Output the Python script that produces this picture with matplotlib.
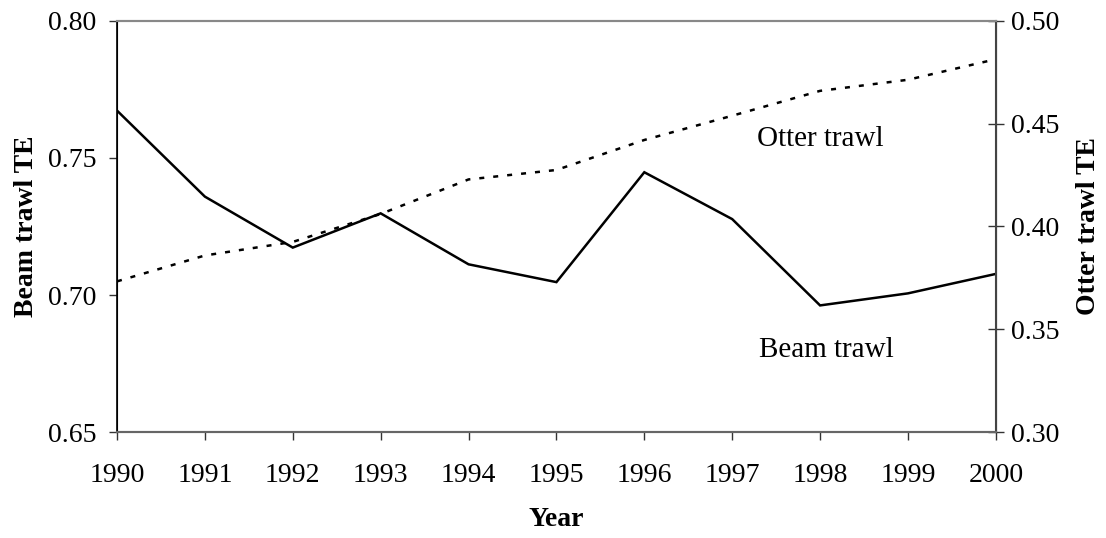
import matplotlib.pyplot as plt
import numpy as np

plt.rcParams['font.family'] = ['Liberation Serif', 'DejaVu Serif']

years = [1990, 1991, 1992, 1993, 1994, 1995, 1996, 1997, 1998, 1999, 2000]
beam_te = [0.7673, 0.7359, 0.7173, 0.7298, 0.7112, 0.7047, 0.7448, 0.7277, 0.6962, 0.7006, 0.7077]
otter_te = [0.3733, 0.3859, 0.3925, 0.4061, 0.4229, 0.4275, 0.4421, 0.4539, 0.4660, 0.4714, 0.4814]

fig = plt.figure(figsize=(11.06, 5.38), dpi=100)
ax = fig.add_axes([0.1058, 0.197, 0.7946, 0.764])
ax2 = ax.twinx()

ax.plot(years, beam_te, color='black', lw=1.8, solid_joinstyle='miter')
ax2.plot(years, otter_te, color='black', lw=1.8, linestyle=(0, (2, 3.6)))

ax.set_xlim(1990, 2000)
ax.set_ylim(0.65, 0.80)
ax2.set_ylim(0.30, 0.50)
ax.set_xticks(years)
ax.set_yticks([0.65, 0.70, 0.75, 0.80])
ax2.set_yticks([0.30, 0.35, 0.40, 0.45, 0.50])
ax.yaxis.set_major_formatter(plt.FormatStrFormatter('%.2f'))
ax2.yaxis.set_major_formatter(plt.FormatStrFormatter('%.2f'))

for a in (ax, ax2):
    a.tick_params(axis='both', labelsize=20, length=6, width=1, direction='out', color='#333333')
    a.spines['top'].set_color('#888888')
    a.spines['bottom'].set_color('#666666')
    a.spines['top'].set_linewidth(1.5)
    a.spines['bottom'].set_linewidth(1.5)
ax.spines['left'].set_linewidth(1.2)
ax2.spines['right'].set_color('#444444')
ax2.spines['right'].set_linewidth(1.5)
ax.tick_params(axis='x', pad=16)
ax.tick_params(axis='y', pad=9)
ax2.tick_params(axis='y', direction='inout', length=12, pad=5)

ax.set_xlabel('Year', fontsize=20, fontweight='bold', labelpad=14)
ax.set_ylabel('Beam trawl TE', fontsize=20, fontweight='bold', labelpad=6)
ax2.set_ylabel('Otter trawl TE', fontsize=20, fontweight='bold', labelpad=12)

ax.text(1998.0, 0.7544, 'Otter trawl', fontsize=21, ha='center', va='baseline')
ax.text(1998.07, 0.6774, 'Beam trawl', fontsize=21, ha='center', va='baseline')

fig.savefig('out.png', dpi=100)
